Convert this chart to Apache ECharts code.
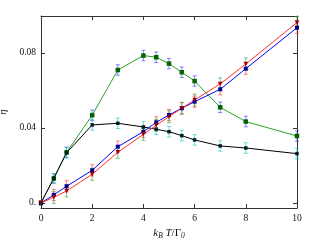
<!DOCTYPE html>
<html><head><meta charset="utf-8">
<script src="https://cdn.jsdelivr.net/npm/echarts@6/dist/echarts.min.js"></script>
<style>html,body{margin:0;padding:0;background:#fff}#c{width:320px;height:240px}</style>
</head><body><div id="c"></div>
<script>
const xs = [0, 0.5, 1, 2, 3, 4, 4.5, 5, 5.5, 6, 7, 8, 10];
const greenY = [0, 0.013, 0.027, 0.0468, 0.0709, 0.0786, 0.0777, 0.0743, 0.0697, 0.065, 0.051, 0.0434, 0.0357];
const greenErr = [0.001, 0.0025, 0.0028, 0.0028, 0.0028, 0.0028, 0.0028, 0.0028, 0.0028, 0.0028, 0.0028, 0.0028, 0.0028];
const blackY = [0, 0.0132, 0.0268, 0.0416, 0.0425, 0.0405, 0.0393, 0.038, 0.0359, 0.0336, 0.0304, 0.0293, 0.0263];
const blackErr = [0.001, 0.0025, 0.0028, 0.0028, 0.0028, 0.0028, 0.0028, 0.0028, 0.0028, 0.0028, 0.0028, 0.0028, 0.0028];
const blueY = [0, 0.0043, 0.0089, 0.0174, 0.030, 0.038, 0.043, 0.0469, 0.0505, 0.054, 0.0606, 0.0716, 0.0935];
const blueErr = [0.001, 0.003, 0.003, 0.003, 0.003, 0.003, 0.003, 0.003, 0.003, 0.003, 0.003, 0.003, 0.003];
const redY = [0, 0.003, 0.0064, 0.0153, 0.027, 0.0366, 0.0414, 0.046, 0.0505, 0.0549, 0.0635, 0.0741, 0.0962];
const redErr = [0.001, 0.0032, 0.0032, 0.0032, 0.0032, 0.0032, 0.0032, 0.0032, 0.0032, 0.0032, 0.0032, 0.0032, 0.0032];
const yTicks = [0, 0.04, 0.08];
const yTickLabels = {'0': '0.', '0.04': '0.04', '0.08': '0.08'};

const pts = ys => xs.map((x, i) => [x, ys[i]]);
const errData = (ys, es) => xs.map((x, i) => [x, ys[i] - es[i], ys[i] + es[i]]);
function errSeries(ys, es, color) {
  return {
    type: 'custom', z: 1, silent: true,
    data: errData(ys, es),
    renderItem: (params, api) => {
      const x = api.value(0);
      const p1 = api.coord([x, api.value(1)]);
      const p2 = api.coord([x, api.value(2)]);
      const st = {stroke: color, lineWidth: 1, opacity: 0.6};
      const c = 2;
      return {type: 'group', children: [
        {type: 'line', shape: {x1: p1[0], y1: p1[1], x2: p2[0], y2: p2[1]}, style: st},
        {type: 'line', shape: {x1: p1[0]-c, y1: p1[1], x2: p1[0]+c, y2: p1[1]}, style: st},
        {type: 'line', shape: {x1: p2[0]-c, y1: p2[1], x2: p2[0]+c, y2: p2[1]}, style: st}
      ]};
    }
  };
}
function lineSeries(ys, lineColor, markColor, symbol, size, rot) {
  return {
    type: 'line', z: 3, data: pts(ys), symbol: symbol, symbolSize: size, symbolRotate: rot || 0,
    showAllSymbol: true,
    lineStyle: {color: lineColor, width: 1},
    itemStyle: {color: markColor, borderWidth: 0},
    emphasis: {disabled: true}
  };
}
const font = 'Liberation Serif';
const axCol = '#333';
const yMin = -0.0027, yMax = 0.0997;
const chart = echarts.init(document.getElementById('c'), null, {renderer: 'canvas'});
chart.setOption({
  animation: false,
  grid: {left: 41, right: 23, top: 16, bottom: 32, containLabel: false, outerBoundsMode: 'none'},
  xAxis: [{
    type: 'value', min: 0, max: 10, interval: 2,
    axisLine: {onZero: false, lineStyle: {color: axCol}}, axisTick: {inside: true, length: 4, lineStyle: {color: axCol}},
    splitLine: {show: false},
    axisLabel: {fontFamily: font, fontSize: 9.5, color: '#111', margin: 5},
    name: '{i|k}{s|B} {i|T}/Γ{s|0}', nameLocation: 'middle', nameGap: 15,
    nameTextStyle: {fontFamily: font, fontSize: 11, color: '#111',
      rich: {i: {fontFamily: font, fontStyle: 'italic', fontSize: 11, color: '#111'},
             s: {fontFamily: font, fontStyle: 'italic', fontSize: 7.5, color: '#111', padding: [6, 0, 0, 0]}}}
  }, {
    type: 'value', position: 'top', min: 0, max: 10, interval: 2,
    axisLine: {onZero: false, lineStyle: {color: axCol}}, axisTick: {inside: true, length: 4, lineStyle: {color: axCol}},
    axisLabel: {show: false}, splitLine: {show: false}
  }],
  yAxis: [{
    type: 'value', min: yMin, max: yMax,
    axisLine: {show: true, onZero: false, lineStyle: {color: axCol}},
    axisTick: {show: true, inside: true, length: 4, customValues: yTicks, lineStyle: {color: axCol}},
    axisLabel: {customValues: yTicks, fontFamily: font, fontSize: 9.5, color: '#111', margin: 5,
      formatter: v => yTickLabels[String(+v.toFixed(4))] || ''},
    splitLine: {show: false},
    name: 'η', nameLocation: 'middle', nameGap: 27, nameRotate: 90,
    nameTextStyle: {fontFamily: font, fontStyle: 'italic', fontSize: 11, color: '#111'}
  }, {
    type: 'value', position: 'right', min: yMin, max: yMax,
    axisLine: {show: true, onZero: false, lineStyle: {color: axCol}},
    axisTick: {show: true, inside: true, length: 4, customValues: yTicks, lineStyle: {color: axCol}},
    axisLabel: {show: false}, splitLine: {show: false}
  }],
  series: [
    errSeries(greenY, greenErr, '#3b3bff'),
    errSeries(blackY, blackErr, '#00c8c8'),
    errSeries(blueY, blueErr, '#ff3030'),
    errSeries(redY, redErr, '#30a030'),
    lineSeries(greenY, '#2ca02c', '#006400', 'rect', 4.5),
    lineSeries(blackY, '#000000', '#002020', 'rect', 3.5),
    lineSeries(blueY, '#0000ff', '#00008b', 'rect', 4),
    lineSeries(redY, '#ff3030', '#a00000', 'triangle', 4.5, 180)
  ]
});
</script></body></html>
